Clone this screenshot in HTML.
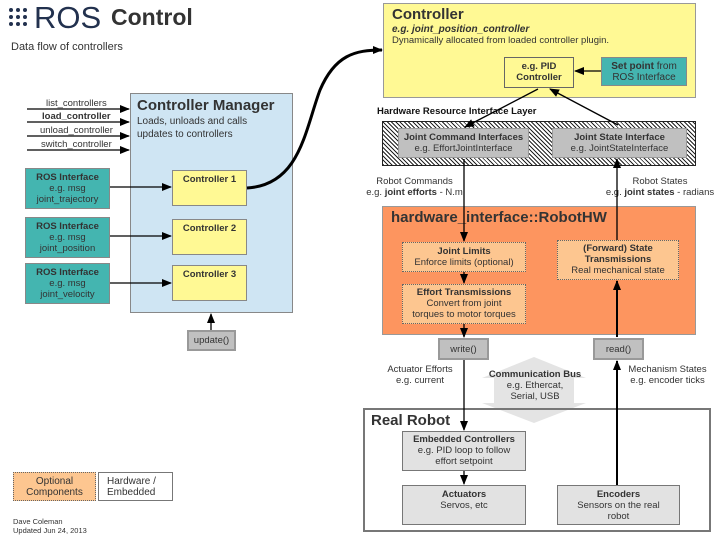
<!DOCTYPE html>
<html><head><meta charset="utf-8"><style>
body{margin:0;width:717px;height:543px;background:#fff;position:relative;overflow:hidden;font-family:"Liberation Sans",sans-serif;color:#333}
.b{position:absolute;box-sizing:border-box;text-align:center;font-size:9.5px;line-height:11px;color:#333}
.t{position:absolute;white-space:nowrap;color:#333}
b{font-weight:bold}
.dot{border:1px dotted #666;background:#fdc690}
.gray{background:#c0c0c0;border:2px solid #999}
.lg{background:#e2e2e2;border:1px solid #777}
svg{position:absolute;left:0;top:0}
</style></head><body>
<svg width="40" height="30"><g fill="#22314e">
<circle cx="11" cy="10" r="2"/><circle cx="18" cy="10" r="2"/><circle cx="25" cy="10" r="2"/>
<circle cx="11" cy="17" r="2"/><circle cx="18" cy="17" r="2"/><circle cx="25" cy="17" r="2"/>
<circle cx="11" cy="24" r="2"/><circle cx="18" cy="24" r="2"/><circle cx="25" cy="24" r="2"/></g></svg>
<div class="t" style="left:34px;top:0px;font-size:31px;color:#22314e">ROS</div>
<div class="t" style="left:111px;top:4px;font-size:23px;font-weight:bold;color:#333">Control</div>
<div class="t" style="left:11px;top:41px;font-size:11px">Data flow of controllers</div>

<div class="t" style="left:46px;top:98px;font-size:9.5px">list_controllers</div>
<div class="t" style="left:42px;top:111px;font-size:9.5px;font-weight:bold">load_controller</div>
<div class="t" style="left:40px;top:125px;font-size:9.5px">unload_controller</div>
<div class="t" style="left:41px;top:139px;font-size:9.5px">switch_controller</div>

<div class="b" style="left:130px;top:93px;width:163px;height:220px;background:#cfe5f3;border:1px solid #888;text-align:left;padding:3px 6px">
<div style="font-size:15px;font-weight:bold;line-height:18px">Controller Manager</div>
<div style="font-size:10px;line-height:13px">Loads, unloads and calls<br>updates to controllers</div></div>

<div class="b" style="left:25px;top:168px;width:85px;height:41px;background:#44b5b0;border:1px solid #888;padding-top:3px"><b>ROS Interface</b><br>e.g. msg<br>joint_trajectory</div>
<div class="b" style="left:25px;top:217px;width:85px;height:41px;background:#44b5b0;border:1px solid #888;padding-top:3px"><b>ROS Interface</b><br>e.g. msg<br>joint_position</div>
<div class="b" style="left:25px;top:263px;width:85px;height:41px;background:#44b5b0;border:1px solid #888;padding-top:3px"><b>ROS Interface</b><br>e.g. msg<br>joint_velocity</div>

<div class="b" style="left:172px;top:170px;width:75px;height:36px;background:#fff994;border:1px solid #888;padding-top:3px"><b>Controller 1</b></div>
<div class="b" style="left:172px;top:219px;width:75px;height:36px;background:#fff994;border:1px solid #888;padding-top:3px"><b>Controller 2</b></div>
<div class="b" style="left:172px;top:265px;width:75px;height:36px;background:#fff994;border:1px solid #888;padding-top:3px"><b>Controller 3</b></div>
<div class="b gray" style="left:187px;top:330px;width:49px;height:21px;padding-top:3px">update()</div>

<div class="b" style="left:383px;top:3px;width:313px;height:95px;background:#fff994;border:1px solid #999;text-align:left;padding:2px 8px">
<div style="font-size:15px;font-weight:bold;line-height:18px">Controller</div>
<div style="font-size:10px;line-height:11px;font-weight:bold;font-style:italic">e.g. joint_position_controller</div>
<div style="font-size:9.5px;line-height:11px">Dynamically allocated from loaded controller plugin.</div></div>
<div class="b" style="left:504px;top:57px;width:70px;height:31px;background:#fff994;border:1px solid #666;padding-top:3px"><b>e.g. PID<br>Controller</b></div>
<div class="b" style="left:601px;top:57px;width:86px;height:29px;background:#44b5b0;border:1px solid #888;padding-top:3px;font-size:10px"><b>Set point</b> from<br>ROS Interface</div>

<div class="t" style="left:377px;top:106px;font-size:9.5px;font-weight:bold;color:#111">Hardware Resource Interface Layer</div>
<div class="b" style="left:382px;top:121px;width:314px;height:45px;border:1px solid #222;background:repeating-linear-gradient(45deg,#222 0 1px,#fff 1px 3px)"></div>
<div class="b gray" style="left:398px;top:128px;width:131px;height:30px;padding-top:3px;border-width:1px"><b>Joint Command Interfaces</b><br>e.g. EffortJointInterface</div>
<div class="b gray" style="left:552px;top:128px;width:135px;height:30px;padding-top:3px;border-width:1px"><b>Joint State Interface</b><br>e.g. JointStateInterface</div>

<div class="b" style="left:352px;top:176px;width:125px;font-size:9.5px">Robot Commands<br>e.g. <b>joint efforts</b> - N.m</div>
<div class="b" style="left:600px;top:176px;width:120px;font-size:9.5px">Robot States<br>e.g. <b>joint states</b> - radians</div>

<div class="b" style="left:382px;top:206px;width:314px;height:129px;background:#fd955f;border:1px solid #999;text-align:left;padding:1px 8px">
<div style="font-size:15px;font-weight:bold;line-height:20px">hardware_interface::RobotHW</div></div>
<div class="b dot" style="left:402px;top:242px;width:124px;height:30px;padding-top:3px"><b>Joint Limits</b><br>Enforce limits (optional)</div>
<div class="b dot" style="left:402px;top:284px;width:124px;height:40px;padding-top:2px"><b>Effort Transmissions</b><br>Convert from joint<br>torques to motor torques</div>
<div class="b dot" style="left:557px;top:240px;width:122px;height:40px;padding-top:2px"><b>(Forward) State<br>Transmissions</b><br>Real mechanical state</div>

<div class="b gray" style="left:438px;top:338px;width:51px;height:22px;padding-top:4px">write()</div>
<div class="b gray" style="left:593px;top:338px;width:51px;height:22px;padding-top:4px">read()</div>
<div class="b" style="left:380px;top:364px;width:80px">Actuator Efforts<br>e.g. current</div>
<div class="b" style="left:620px;top:364px;width:95px">Mechanism States<br>e.g. encoder ticks</div>

<svg width="717" height="543">
<polygon points="534,357 586,378 574,378 574,403 586,403 534,423 482,403 494,403 494,378 482,378" fill="#e4e4e4"/>
</svg>
<div class="b" style="left:480px;top:369px;width:110px"><b>Communication Bus</b><br>e.g. Ethercat,<br>Serial, USB</div>

<div class="b" style="left:363px;top:408px;width:348px;height:124px;border:2px solid #777;background:transparent;text-align:left;padding:1px 6px">
<div style="font-size:15px;font-weight:bold;line-height:20px">Real Robot</div></div>
<div class="b lg" style="left:402px;top:431px;width:124px;height:40px;padding-top:2px"><b>Embedded Controllers</b><br>e.g. PID loop to follow<br>effort setpoint</div>
<div class="b lg" style="left:402px;top:485px;width:124px;height:40px;padding-top:3px"><b>Actuators</b><br>Servos, etc</div>
<div class="b lg" style="left:557px;top:485px;width:123px;height:40px;padding-top:3px"><b>Encoders</b><br>Sensors on the real<br>robot</div>

<div class="b dot" style="left:13px;top:472px;width:83px;height:29px;padding-top:3px;font-size:10px">Optional<br>Components</div>
<div class="b" style="left:98px;top:472px;width:75px;height:29px;padding:3px 0 0 8px;font-size:10px;text-align:left;border:1px solid #777;background:#fff">Hardware /<br>Embedded</div>
<div class="t" style="left:13px;top:517px;font-size:7.5px;line-height:9px">Dave Coleman<br>Updated Jun 24, 2013</div>

<svg width="717" height="543">
<defs><marker id="a" markerWidth="10" markerHeight="8" refX="9" refY="4" orient="auto" markerUnits="userSpaceOnUse"><path d="M0,0L10,4L0,8z" fill="#000"/></marker></defs>
<g stroke="#000" stroke-width="1.3" fill="none">
<line x1="27" y1="109" x2="129" y2="109" marker-end="url(#a)"/>
<line x1="27" y1="122" x2="129" y2="122" marker-end="url(#a)"/>
<line x1="27" y1="136" x2="129" y2="136" marker-end="url(#a)"/>
<line x1="27" y1="150" x2="129" y2="150" marker-end="url(#a)"/>
<line x1="110" y1="187" x2="171" y2="187" marker-end="url(#a)"/>
<line x1="110" y1="236" x2="171" y2="236" marker-end="url(#a)"/>
<line x1="110" y1="283" x2="171" y2="283" marker-end="url(#a)"/>
<line x1="211" y1="330" x2="211" y2="314" marker-end="url(#a)"/>
<path d="M247,188 C300,185 305,130 320,90 C335,55 355,50 382,50" stroke-width="3" marker-end="url(#a)"/>
<line x1="601" y1="71" x2="575" y2="71" marker-end="url(#a)"/>
<line x1="538" y1="89" x2="465" y2="127" marker-end="url(#a)"/>
<line x1="618" y1="125" x2="550" y2="89" marker-end="url(#a)"/>
<line x1="464" y1="159" x2="464" y2="241" marker-end="url(#a)"/>
<line x1="617" y1="240" x2="617" y2="159" marker-end="url(#a)"/>
<line x1="464" y1="272" x2="464" y2="283" marker-end="url(#a)"/>
<line x1="464" y1="324" x2="464" y2="337" marker-end="url(#a)"/>
<line x1="617" y1="337" x2="617" y2="281" marker-end="url(#a)" stroke-width="2"/>
<line x1="464" y1="360" x2="464" y2="430" marker-end="url(#a)"/>
<line x1="617" y1="485" x2="617" y2="361" marker-end="url(#a)" stroke-width="2"/>
<line x1="464" y1="471" x2="464" y2="484" marker-end="url(#a)"/>
</g></svg>
</body></html>
